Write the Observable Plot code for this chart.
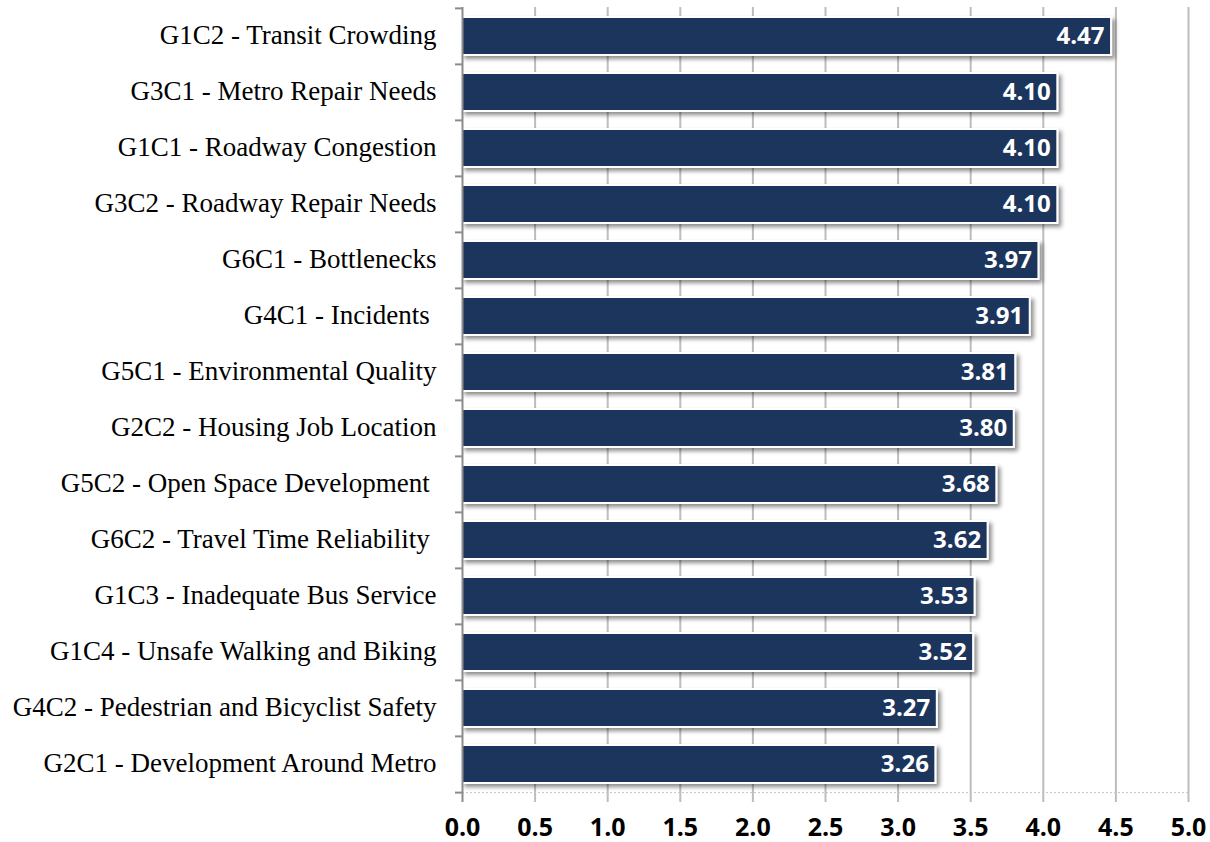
<!DOCTYPE html>
<html><head><meta charset="utf-8">
<script src="https://cdn.jsdelivr.net/npm/d3@7"></script>
<script src="https://cdn.jsdelivr.net/npm/@observablehq/plot@0.6"></script>
<style>body{margin:0;background:#fff}</style>
</head><body><div id="chart"></div>
<script>
const categories = [
  "G1C2 - Transit Crowding",
  "G3C1 - Metro Repair Needs",
  "G1C1 - Roadway Congestion",
  "G3C2 - Roadway Repair Needs",
  "G6C1 - Bottlenecks",
  "G4C1 - Incidents ",
  "G5C1 - Environmental Quality",
  "G2C2 - Housing Job Location",
  "G5C2 - Open Space Development ",
  "G6C2 - Travel Time Reliability ",
  "G1C3 - Inadequate Bus Service",
  "G1C4 - Unsafe Walking and Biking",
  "G4C2 - Pedestrian and Bicyclist Safety",
  "G2C1 - Development Around Metro"
];
const values = [4.47, 4.10, 4.10, 4.10, 3.97, 3.91, 3.81, 3.80, 3.68, 3.62, 3.53, 3.52, 3.27, 3.26];
const xTicks = [0, 0.5, 1, 1.5, 2, 2.5, 3, 3.5, 4, 4.5, 5];

const data = categories.map((c, i) => ({category: c, value: values[i]}));

const W = 1210, H = 842, mT = 7, mB = 48, mL = 462, mR = 22;
const step = (H - mT - mB) / categories.length;

const chart = Plot.plot({
  width: W, height: H,
  marginLeft: mL, marginRight: mR, marginTop: mT, marginBottom: mB,
  style: {background: "white", color: "black", overflow: "visible"},
  x: {domain: [0, 5], ticks: xTicks, label: null},
  y: {domain: categories, paddingInner: 0.32, paddingOuter: 0.16, label: null},
  marks: [
    Plot.ruleX(xTicks.slice(1), {stroke: "#bdbdbd", strokeWidth: 2, insetBottom: -8}),
    Plot.ruleY(categories.slice(-1), {y: d => d, dy: step / 2, stroke: "#c4c4c4", strokeWidth: 1, strokeDasharray: "2,2"}),
    Plot.barX(data, {x: "value", y: "category", fill: "#1a365d", stroke: "white", strokeWidth: 2}),
    Plot.text(data, {x: "value", y: "category", text: d => d.value.toFixed(2), textAnchor: "end", dx: -7, dy: 0,
      fill: "white", fontWeight: "bold", fontSize: 24, fontFamily: "Open Sans"}),
    Plot.ruleX([0], {stroke: "#8c8c8c", strokeWidth: 2, insetBottom: -8}),
    Plot.ruleY(categories, {y: d => d, dy: -step / 2, x1: 0, x2: 0, insetLeft: -7, stroke: "#8c8c8c", strokeWidth: 2}),
    Plot.ruleY(categories.slice(-1), {y: d => d, dy: step / 2, x1: 0, x2: 0, insetLeft: -7, stroke: "#8c8c8c", strokeWidth: 2}),
    Plot.axisY({tickSize: 0, tickPadding: 26, dy: -1, fontSize: 27, fontFamily: "Liberation Serif", label: null}),
    Plot.axisX({ticks: xTicks, tickSize: 0, tickPadding: 24, tickFormat: d3.format(".1f"), fontSize: 25,
      fontWeight: "bold", fontFamily: "Open Sans", label: null})
  ]
});

// drop shadow for bars
const svg = d3.select(chart);
const defs = svg.insert("defs", ":first-child");
const f = defs.append("filter").attr("id", "barshadow").attr("x", "-5%").attr("y", "-20%").attr("width", "115%").attr("height", "160%");
f.append("feDropShadow").attr("dx", 3).attr("dy", 3).attr("stdDeviation", 2).attr("flood-color", "#000").attr("flood-opacity", 0.45);
svg.selectAll('g[aria-label="bar"]').attr("filter", "url(#barshadow)");

document.getElementById("chart").appendChild(chart);
</script>
</body></html>
